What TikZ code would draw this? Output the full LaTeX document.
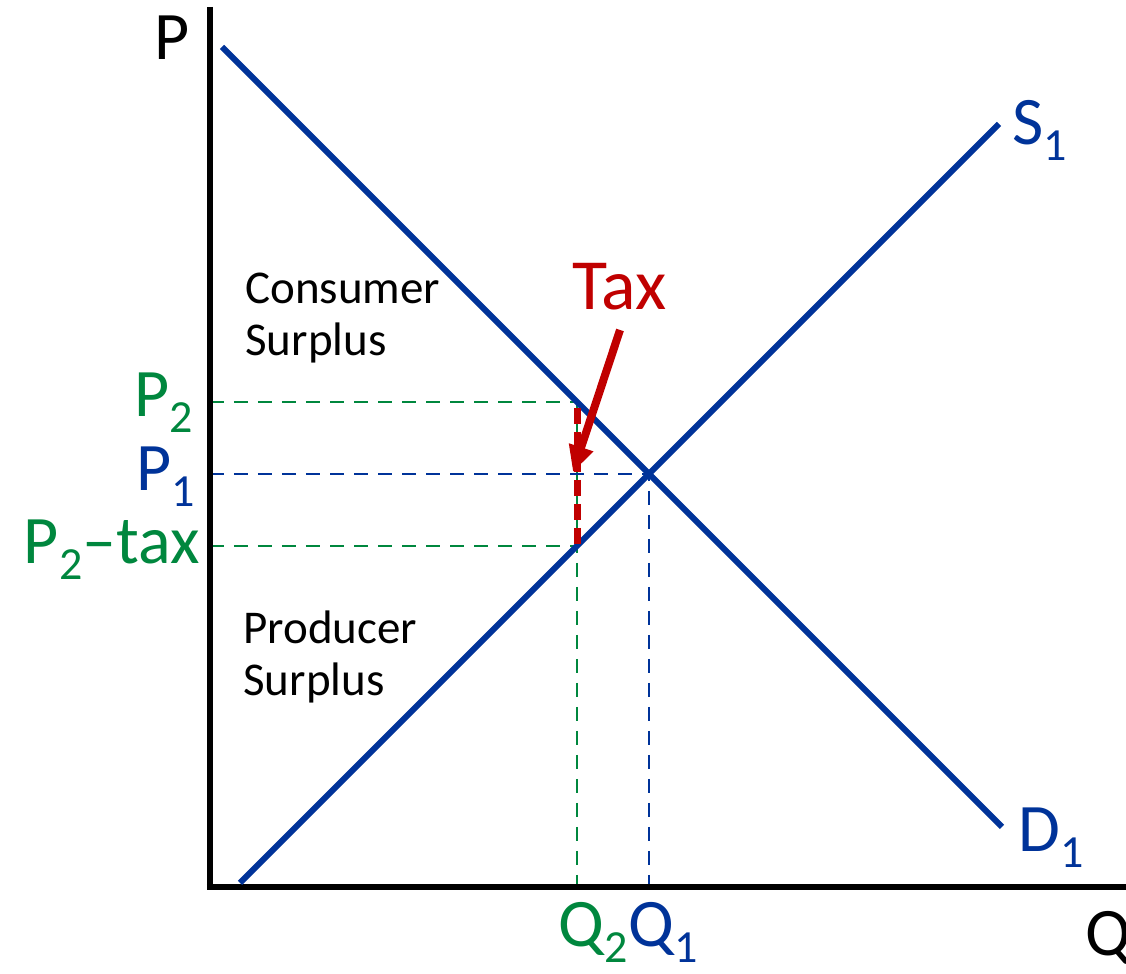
\documentclass[tikz,border=0pt]{standalone}
\usepackage{fontspec}
\setmainfont{Carlito}
\usetikzlibrary{arrows.meta,calc}
\definecolor{curveblue}{HTML}{003399}
\definecolor{pricegreen}{HTML}{00873E}
\definecolor{taxred}{HTML}{C00000}
\newcommand{\lowsub}[1]{\raisebox{-8pt}{\fontsize{23}{23}\selectfont #1}}

\begin{document}
\begin{tikzpicture}[
  x=.5pt,y=.5pt,>=Stealth,inner sep=0pt,
  font=\fontsize{34}{40}\selectfont,
  axisline/.style={black,line width=3pt},
  curve/.style={curveblue,line width=3pt},
  guideblue/.style={curveblue,line width=1pt,dash pattern=on 7pt off 5pt},
  guidegreen/.style={pricegreen,line width=1pt,dash pattern=on 7pt off 5pt},
  taxgap/.style={taxred,line width=3.5pt,dash pattern=on 8pt off 4pt},
  areatext/.style={black,font=\fontsize{23.5}{26}\selectfont,align=left,anchor=north west}
]
\useasboundingbox (-210,-87) rectangle (916,887);
% points on the axes and on the two curves
\coordinate (origin) at (0,0);
\coordinate (ptop) at (0,880);
\coordinate (qend) at (916,0);
\coordinate (dstart) at (12,840);
\coordinate (dend) at (792,60);
\coordinate (sstart) at (30,4);
\coordinate (send) at (789,763);
\coordinate (eqm) at (439,413);
\coordinate (qone) at (439,0);
\coordinate (pone) at (0,413);
\coordinate (dtax) at (367,485);
\coordinate (stax) at (367,341);
\coordinate (qtwo) at (367,0);
\coordinate (ptwo) at (0,485);
\coordinate (pnet) at (0,341);
% guide lines
\draw[guidegreen] (ptwo) -- (dtax) -- (qtwo);
\draw[guidegreen] (pnet) -- (stax);
\draw[guideblue] (pone) -- (eqm) -- (qone);
% axes and curves
\draw[axisline] (ptop) -- ($(origin)+(0,-3)$);
\draw[axisline] ($(origin)+(-3,0)$) -- (qend);
\draw[curve] (dstart) -- (dend);
\draw[curve] (sstart) -- (send);
% the tax wedge
\draw[taxgap] ($(dtax)+(0,-6)$) -- (stax);
\node[anchor=base west,taxred,font=\fontsize{36}{40}\selectfont] (taxlabel) at (362,577) {Tax};
\coordinate (taxtail) at (410,557);
\coordinate (taxtip) at (363,415);
\draw[-{Triangle[length=13pt,width=12pt]},taxred,line width=4pt] (taxtail) -- (taxtip);
% labels
\node[anchor=base east] (plabel) at (-20,827) {P};
\node[anchor=base west] (qlabel) at (875,-69) {Q};
\node[anchor=base west,curveblue] (slabel) at (802,742) {S\lowsub{1}};
\node[anchor=base west,curveblue] (dlabel) at (808,35) {D\lowsub{1}};
\node[anchor=base east,pricegreen] (ptwolabel) at (-17,470) {P\lowsub{2}};
\node[anchor=base east,curveblue] (ponelabel) at (-15,396) {P\lowsub{1}};
\node[anchor=base east,pricegreen] (pnetlabel) at (-10,323) {P\lowsub{2}\textendash tax};
\node[anchor=base west,pricegreen] (qtwolabel) at (348,-60) {Q\lowsub{2}};
\node[anchor=base west,curveblue] (qonelabel) at (qtwolabel.base east) {Q\lowsub{1}};
\node[areatext] (cslabel) at (35,614) {Consumer\\Surplus};
\node[areatext] (pslabel) at (33,277) {Producer\\Surplus};
\end{tikzpicture}
\end{document}
